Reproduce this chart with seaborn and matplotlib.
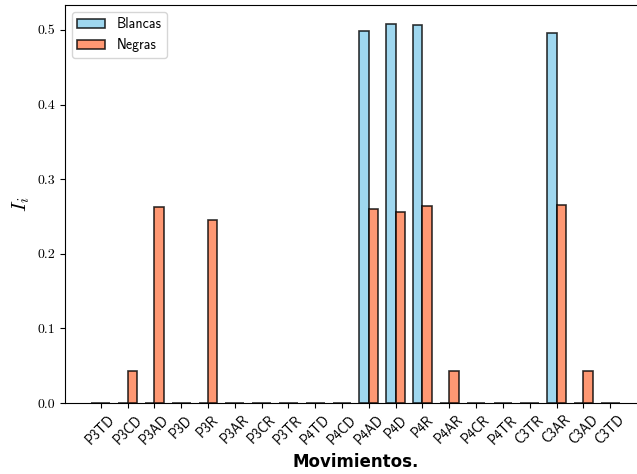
import numpy as np
import pandas as pd
import matplotlib
matplotlib.use("Agg")
import matplotlib.pyplot as plt
import seaborn as sns

movimientos = ["P3TD", "P3CD", "P3AD", "P3D", "P3R", "P3AR", "P3CR", "P3TR",
               "P4TD", "P4CD", "P4AD", "P4D", "P4R", "P4AR", "P4CR", "P4TR",
               "C3TR", "C3AR", "C3AD", "C3TD"]
blancas = [0, 0, 0, 0, 0, 0, 0, 0,
           0, 0, 0.499, 0.508, 0.507, 0, 0, 0,
           0, 0.496, 0, 0]
negras = [0, 0.043, 0.263, 0, 0.245, 0, 0, 0,
          0, 0, 0.260, 0.256, 0.264, 0.043, 0, 0,
          0, 0.265, 0.043, 0]

df = pd.DataFrame({
    "mov": movimientos * 2,
    "I": blancas + negras,
    "lado": ["Blancas"] * len(movimientos) + ["Negras"] * len(movimientos),
})

plt.rcParams["mathtext.fontset"] = "cm"

fig = plt.figure(figsize=(6.37, 4.74), dpi=100)
ax = fig.add_axes([0.102, 0.1498, 0.912, 0.8397])

bar_w = 0.35
sns.barplot(data=df, x="mov", y="I", hue="lado", order=movimientos,
            palette={"Blancas": "skyblue", "Negras": "coral"},
            width=2 * bar_w, saturation=1, alpha=0.8,
            edgecolor="black", linewidth=1.2, errorbar=None, ax=ax)

# same padding matplotlib would give the bar extents
lo, hi = -bar_w, len(movimientos) - 1 + bar_w
pad = 0.05 * (hi - lo)
ax.set_xlim(lo - pad, hi + pad)
ax.set_ylim(0, max(blancas + negras) * 1.05)
ax.spines["right"].set_visible(False)

ax.set_xlabel("Movimientos.", fontsize=12, fontweight="bold",
              family="DejaVu Sans")
ax.set_ylabel(r"$I_i$", fontsize=15)
ax.set_yticks([0, 0.1, 0.2, 0.3, 0.4, 0.5])
ax.set_yticklabels([f"{v:.1f}" for v in [0, 0.1, 0.2, 0.3, 0.4, 0.5]],
                   family="cmr10", fontsize=10)
ax.set_xticks(range(len(movimientos)))
ax.set_xticklabels(movimientos, rotation=45, ha="center",
                   family="cmss10", fontsize=10)

leg = ax.legend(loc="upper left", prop={"family": "cmss10", "size": 10})

fig.savefig("out.png", dpi=100)
